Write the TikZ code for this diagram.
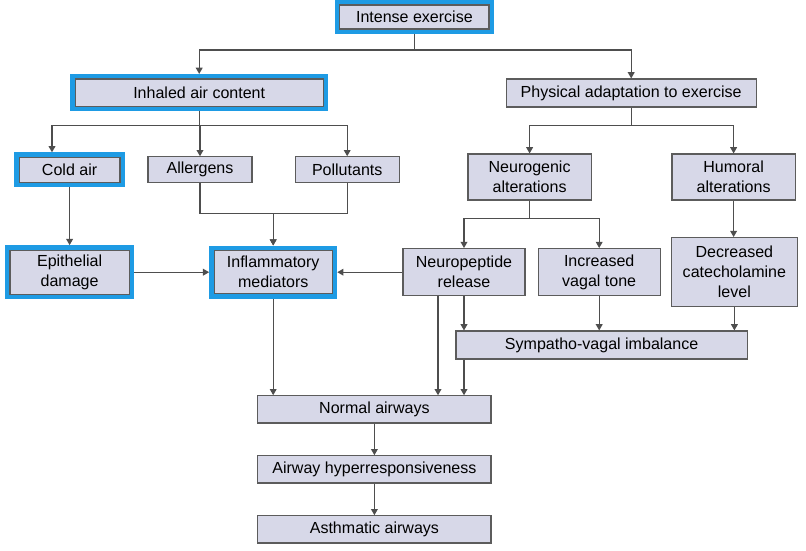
\documentclass[tikz,border=0pt]{standalone}
\usepackage{fontspec}
\setmainfont{Liberation Sans}
\usetikzlibrary{arrows.meta}

\definecolor{boxfill}{HTML}{D7D8E8}
\definecolor{boxline}{HTML}{5C5C5C}
\definecolor{hlblue}{HTML}{1E9BE4}
\definecolor{arrline}{HTML}{4E4E4E}

\begin{document}
\begin{tikzpicture} [scale=1.00]
  % box looks, the blue ones get a thick frame
  \tikzstyle{box}=[draw=boxline, fill=boxfill, line width=0.8pt, inner sep=0pt,
    align=center, font=\fontsize{11.4}{14.2}\selectfont]
  \tikzstyle{hl}=[box, preaction={draw=hlblue, line width=7.2pt}, outer sep=3.6pt]
  \tikzstyle{conn}=[draw=arrline, line width=0.8pt, >={Triangle[length=4.4pt,width=4.8pt]}]

  \useasboundingbox (0.00,0.00) rectangle (20.15,13.775);

  % Draw the boxes
  \node [hl, minimum width=3.73cm, minimum height=0.60cm] (intense) at (10.36, 13.35) {Intense exercise};
  \node [hl, minimum width=6.20cm, minimum height=0.68cm] (inhaled) at (4.98, 11.46) {Inhaled air content};
  \node [box, minimum width=6.25cm, minimum height=0.70cm] (physical) at (15.78, 11.45) {Physical adaptation to exercise};

  \node [hl, minimum width=2.52cm, minimum height=0.62cm] (cold) at (1.74, 9.53) {Cold air};
  \node [box, minimum width=2.60cm, minimum height=0.65cm] (allergens) at (5.00, 9.53) {Allergens};
  \node [box, minimum width=2.60cm, minimum height=0.65cm] (pollutants) at (8.68, 9.53) {Pollutants};
  \node [box, minimum width=3.08cm, minimum height=1.15cm] (neurogenic) at (13.24, 9.35) {Neurogenic\\alterations};
  \node [box, minimum width=3.08cm, minimum height=1.15cm] (humoral) at (18.34, 9.35) {Humoral\\alterations};

  \node [hl, minimum width=2.98cm, minimum height=1.10cm] (epith) at (1.74, 6.97) {Epithelial\\damage};
  \node [hl, minimum width=2.95cm, minimum height=1.08cm] (inflam) at (6.83, 6.97) {Inflammatory\\mediators};
  \node [box, minimum width=3.05cm, minimum height=1.18cm] (neuro) at (11.60, 6.97) {Neuropeptide\\release};
  \node [box, minimum width=3.05cm, minimum height=1.18cm] (vagal) at (14.98, 6.97) {Increased\\vagal tone};
  \node [box, minimum width=3.15cm, minimum height=1.73cm] (catechol) at (18.36, 6.97) {Decreased\\catecholamine\\level};

  \node [box, minimum width=7.28cm, minimum height=0.70cm] (sympatho) at (15.04, 5.15) {Sympatho-vagal imbalance};
  \node [box, minimum width=5.83cm, minimum height=0.68cm] (normal) at (9.36, 3.54) {Normal airways};
  \node [box, minimum width=5.83cm, minimum height=0.68cm] (hyper) at (9.36, 2.04) {Airway hyperresponsiveness};
  \node [box, minimum width=5.83cm, minimum height=0.68cm] (asthma) at (9.36, 0.54) {Asthmatic airways};

  % top split
  \draw[conn,->] (intense.south) -- ++(0,-0.40) -| (inhaled.north);
  \draw[conn,->] (intense.south) -- ++(0,-0.40) -| (physical.north);

  % left branch
  \draw[conn,->] (inhaled.south) -- ++(0,-0.35) -| ([xshift=-0.44cm]cold.north);
  \draw[conn,->] (inhaled.south) -- ++(0,-0.35) -| (allergens.north);
  \draw[conn,->] (inhaled.south) -- ++(0,-0.35) -| (pollutants.north);
  \draw[conn,->] (allergens.south) -- ++(0,-0.75) -| (inflam.north);
  \draw[conn,->] (pollutants.south) -- ++(0,-0.75) -| (inflam.north);
  \draw[conn,->] (cold.south) -- (epith.north);
  \draw[conn,->] (epith.east) -- (inflam.west);
  \draw[conn,->] (neuro.west) -- (inflam.east);

  % right branch
  \draw[conn,->] (physical.south) -- ++(0,-0.45) -| (neurogenic.north);
  \draw[conn,->] (physical.south) -- ++(0,-0.45) -| (humoral.north);
  \draw[conn,->] (neurogenic.south) -- ++(0,-0.45) -| (neuro.north);
  \draw[conn,->] (neurogenic.south) -- ++(0,-0.45) -| (vagal.north);
  \draw[conn,->] (humoral.south) -- (humoral.south |- catechol.north);
  \draw[conn,->] (neuro.south) -- (neuro.south |- sympatho.north);
  \draw[conn,->] (vagal.south) -- (vagal.south |- sympatho.north);
  \draw[conn,->] (catechol.south) -- (catechol.south |- sympatho.north);

  % into the airways
  \draw[conn,->] (inflam.south) -- (inflam.south |- normal.north);
  \draw[conn,->] ([xshift=-0.65cm]neuro.south) -- ([xshift=-0.65cm]neuro.south |- normal.north);
  \draw[conn,->] (neuro.south |- sympatho.south) -- (neuro.south |- normal.north);
  \draw[conn,->] (normal) -- (hyper);
  \draw[conn,->] (hyper) -- (asthma);

\end{tikzpicture}
\end{document}
